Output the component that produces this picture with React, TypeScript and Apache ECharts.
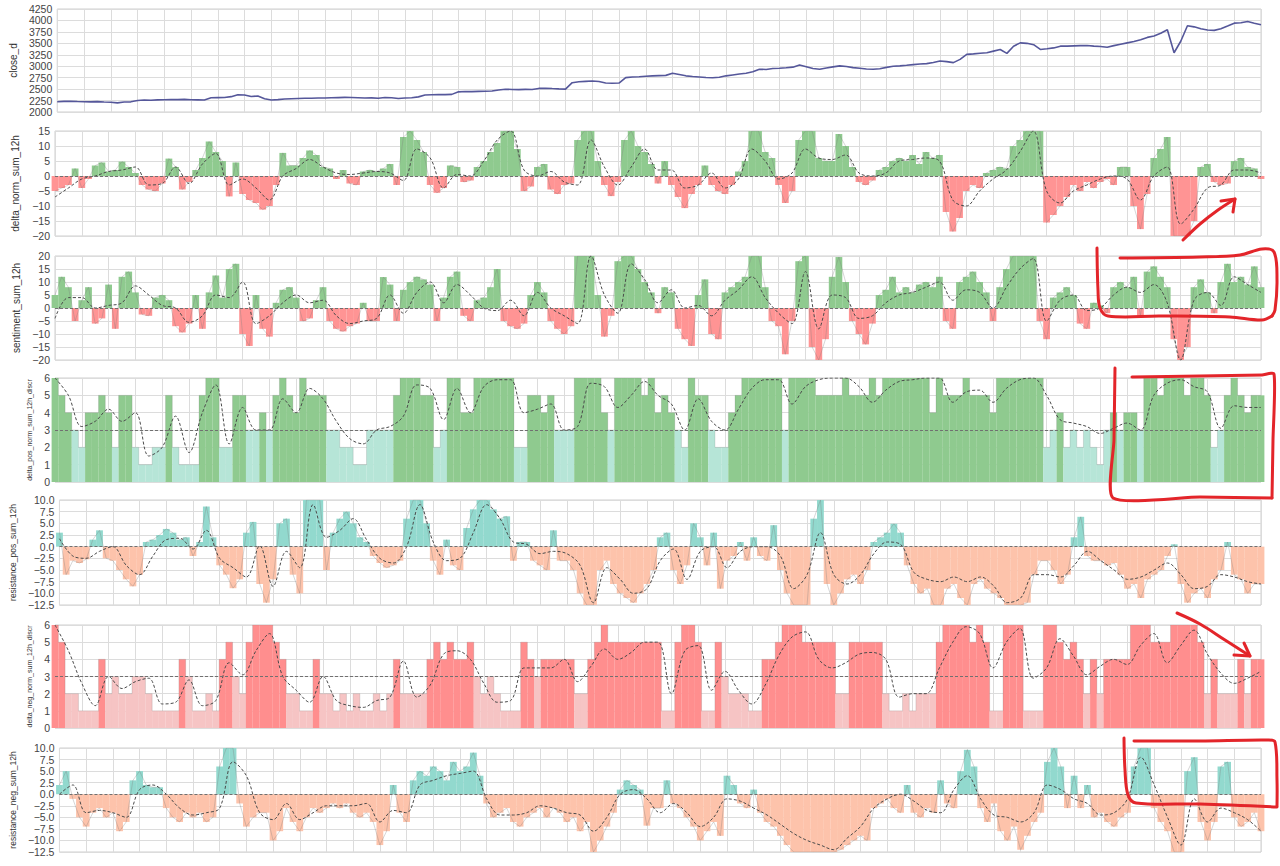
import React, { useEffect, useRef } from "react";
import * as echarts from "echarts";

// x positions: raw series every 0.25 grid unit, smoothed series every 0.5 unit (45 units wide)
const RAW_STEP = 0.25;
const SMOOTH_STEP = 0.5;
const X_MAX = 45;

const closeD = [
  2225, 2232, 2236, 2228, 2224, 2222, 2226, 2219, 2214, 2200, 2218, 2222, 2250, 2262, 2258, 2264,
  2268, 2272, 2270, 2276, 2268, 2265, 2262, 2310, 2315, 2318, 2335, 2378, 2372, 2340, 2348, 2290,
  2262, 2270, 2285, 2290, 2295, 2300, 2300, 2305, 2305, 2310, 2315, 2320, 2318, 2312, 2305, 2308,
  2300, 2318, 2310, 2295, 2305, 2310, 2330, 2370, 2378, 2382, 2380, 2385, 2440, 2448, 2445, 2450,
  2452, 2460, 2480, 2498, 2492, 2488, 2495, 2490, 2515, 2520, 2512, 2505, 2500, 2640, 2660, 2670,
  2678, 2665, 2635, 2628, 2632, 2750, 2765, 2770, 2780, 2790, 2795, 2800, 2848, 2820, 2790, 2776,
  2765, 2752, 2748, 2760, 2790, 2810, 2830, 2848, 2880, 2935, 2930, 2950, 2955, 2965, 2980, 3028,
  2990, 2950, 2935, 2960, 2985, 3007, 2995, 2970, 2955, 2940, 2935, 2945, 2975, 3000, 3007, 3020,
  3035, 3050, 3057, 3080, 3114, 3100, 3079, 3150, 3258, 3270, 3285, 3294, 3330, 3366, 3280, 3438,
  3510, 3500, 3470, 3366, 3380, 3400, 3438, 3440, 3445, 3450, 3452, 3440, 3430, 3416, 3450, 3480,
  3510, 3540, 3580, 3630, 3660, 3720, 3798, 3294, 3546, 3884, 3860, 3820, 3790, 3783, 3820, 3880,
  3941, 3950, 3978, 3940, 3905,
];

const deltaNorm = [
  -5, -4, -3, 2.5, -4, -1, 3.5, 4.5, 1.5, 2, 4.8, 3, 1, -3, -4.5, -5,
  -2.5, 5.8, 3, -4.5, -2, 2, 6, 11.5, 8, 5, -6.8, 4.5, -6, -8, -9, -11.2,
  -10, -3, 7.7, 3.5, 3.5, 6, 8.5, 7, 3, 2.5, -1, 2, -2.5, -3, 1.5, 2,
  1.5, 2.5, 4, -3, 13, 15, 12, 8, -3, -5.6, -4, 3.5, 3, -2, -1.5, 3,
  5, 8, 11, 15, 15, 9, -5, -3.5, 3, 4, -4.5, -6, -3, -2.5, 12, 15,
  15, 5, -3, -6.7, -2, 12, 15, 10, 8, 4, -2.5, 5, -3, -7, -10.7, -6,
  -3, 3.5, -3, -5, -6, -3, 1.5, 5, 15, 15, 8, 6, -3, -9, -5, 12,
  15, 15, 6, 5, 5, 14, 10, 3, -2, -3, -1.5, 2, 3, 5, 6, 5,
  7, 4, 8, 6, 7, -12, -18.5, -14, -5, -3, -4, 1, 2, 3, 2.5, 10,
  12, 15, 15, 15, -15.5, -13, -10, -7, -3, -5, -2, -4, -2, -1, -3, 3,
  3, -10, -17.7, -6, 6, 9, 13, -20, -20, -20, -15, 3, 4, -2, -3, -2.5,
  5, 6, 3, 2.5, -1,
];
const deltaNormSmooth = [
  -7, -4, -1, 0, 1.5, 2, 3, -3, -2.5, 3, -2.5, 4, 7.5, -3, -1, -4, -8, 0, 2.5, 5.5,
  3, 1, 0.5, 1, 1.5, 1, -1.5, 9, 6, -4, 0.5, 0, 5, 12, 15, 2, 0, 1.5, -2, -3,
  12, 3, -3, 3, 9, 2, 2, -4, -3, 1, -4, -1, 9, 5, -1, 1, 9, 6, 5.5, 7,
  1, 0, 1, 5, 5.5, 6, 5, -8, -10, -5, -1, 2, 8, 15, -5, -9, -5, -3, -1, 0,
  -1, -8, 0, 3, -16, -11, -4, -3, 2, 2, 1,
];

const sentiment = [
  5, 12, 8, -5, 3, 8, -6, -4, 9, -8, 12, 14, 6, -2.5, -3, 4,
  5, 3, -7, -9.4, -6, 5, -8, 6, 12.5, 4, 15, 17, -10, -14.6, 5, -8,
  -11, 2, 7, 8, 4, -5, -4, 3, 8, -5, -8, -9, -7, -6, 2, -5,
  -5, 11.9, 9, -5, 7, 10, 12, 11, 9, -5, 4, 12, 14, -3, -5, 3,
  4, 8, 15, -5, -7, -8, -6, 5, 10, 6, -5, -8, -10, -7, 20, 20,
  20, 5, -11, -3, 18, 20, 20, 15, 10, 6, -2, 8, 6, -8, -12, -14.6,
  5, 11, -10, -12, 6, 8, 10, 12, 20, 20, 8, -5, -7, -17.8, -5, 18,
  20, -15, -20, -12, 12, 19.6, 10, -5, -10, -14, -6, 5, 7, 12, 6, 8,
  6, 9, 10, 8, 12, -5, -8, 10, 12, 14, 10, 6, -5, 8, 15, 20,
  20, 20, 20, -5, -12, 4, 6, 8, 5, -6, -8, 2, 1, -2, 8, 10,
  8, 12, -3, 14, 16, 12, 8, -12, -20, -15, 8, 11, 6, -2, 10, 17,
  10, 12, 9, 16, 8,
];
const sentimentSmooth = [
  -4, 4, 4, 0, 1, 2, 8.5, 5, 1, 0, -5.5, -3, 5, 4, 10, -6, -3, 2, 5, 2,
  3, -3, -6, -5, -4, 5, -2, 6, 10, 2, 9, 5, 0, -1, 3, -3, 6, 0, -3, -6,
  20, 5, -2, 17, 11, 2, 7, 0, 1, -3, 3, 7, 12, 4, -2, -6, 14, -8, 5, 4,
  -4, -3, 2, 5, 6, 8, 10, 3, 7, 6, 0, 8, 15, 19, -5, 3, 5, -1, 0, 5,
  8, 6, 9, 2, -20, 3, 6, 1, 12, 9, 6,
];

const deltaPosDiscr = [
  6, 5, 4, 3, 2, 4, 4, 5, 4, 2, 5, 5, 2, 1, 1, 2,
  2, 5, 2, 1, 1, 1, 5, 6, 6, 2, 2, 5, 5, 3, 3, 4,
  3, 5, 6, 5, 4, 6, 5, 5, 5, 3, 3, 2, 2, 1, 1, 3,
  3, 3, 3, 5, 6, 6, 6, 5, 5, 2, 3, 6, 6, 4, 4, 6,
  6, 6, 6, 6, 6, 2, 2, 5, 5, 4, 5, 3, 3, 3, 6, 6,
  6, 6, 4, 3, 6, 6, 6, 6, 5, 6, 4, 5, 4, 3, 2, 6,
  5, 5, 3, 2, 2, 4, 5, 6, 6, 6, 6, 6, 6, 3, 6, 6,
  6, 6, 5, 5, 5, 5, 6, 5, 5, 5, 6, 5, 6, 6, 6, 6,
  6, 6, 6, 4, 6, 5, 5, 5, 6, 5, 5, 5, 4, 6, 6, 6,
  6, 6, 6, 6, 2, 3, 4, 2, 3, 2, 3, 2, 1, 3, 4, 3,
  4, 4, 3, 6, 6, 5, 6, 6, 6, 5, 6, 6, 5, 2, 3, 5,
  6, 5, 4, 5, 5,
];
const deltaPosDiscrSmooth = [
  6, 5, 3.2, 3.5, 4.2, 3.5, 4, 1.5, 2, 3.8, 1.7, 4, 5.6, 2.2, 4.3, 3, 3, 4.8, 4, 5.4,
  4.8, 3.5, 2.5, 2.2, 3, 3.2, 3.8, 5.6, 5.4, 3.6, 5.4, 4, 5.5, 5.9, 5.9, 4, 4.2, 4.5, 3, 3.2,
  5.7, 5.5, 4.3, 5, 5.8, 5, 4.5, 3, 4.8, 3.5, 3, 4.2, 5.4, 5.9, 5.9, 4.5, 5.5, 5.9, 6, 6,
  5.5, 4.6, 5.3, 5.8, 5.9, 6, 6, 4.6, 5.2, 5.3, 4.6, 5.4, 5.9, 6, 5, 3.6, 3.4, 3.2, 2.8, 3.1,
  3.4, 3, 5, 5.7, 5.9, 5.5, 5.2, 3.1, 4.4, 4.3, 4.3,
];

const resistancePos = [
  3, -6, -3, -3.5, -2.7, 1.5, 3.5, -2.5, -3, -5, -7, -8.5, -6, 1, 1.5, 2.5,
  3.8, 3, 1.5, 2, -2, 1, 8.6, 2, -4, -6, -8.9, -7, 3, 5.3, -8, -12,
  -7, 5, 6, -6, -10, 10, 10, 10, -5, 3, 6, 7.5, 5, 2, 1, -2,
  -3.5, -4.5, -4, -3, 6, 10, 10, 5, -3, -6, 1.5, -4, -5, 4, 8, 10,
  10, 8, 6, 6.5, -3, 1, 1, -3, -4, -5, 3.5, -3, -3, -5, -10, -12.5,
  -12.5, -5, -3, -8, -10, -11, -12, -10, -8, -5, 2, 3, -5, -8, -4, 5,
  2, -4, 3, -9, -3, -2, 1, -3, 2, -2, -3, 4.6, -5, -10, -12.5, -12.5,
  -12.5, 6, 10, -8, -12.5, -10, -7, -6, -8, -5, 1, 2, 3, 4.9, 3, -4,
  -8, -10, -9, -12.5, -12.5, -9, -8, -11, -12.5, -8, -7, -9, -10, -11, -12.5, -12.5,
  -12.5, -12, -6, -3, -3, -5, -8, -6, 2, 6.4, -2, -3, -3, -4, -3.5, -6,
  -9, -8, -11, -7, -6, -5, -2, 0.5, -8, -12, -10, -9, -11, -7, -5, 1,
  -6, -7, -10, -8, -8,
];
const resistancePosSmooth = [
  1.7, -2, -2.5, -1, 0, -4, -6, -2, 1.5, 1.8, -0.5, 3.5, -2.5, -4.5, -6.5, 0.2, -8.5, -1, -4.5, 9,
  2, 3.5, 6, 1.5, -2.5, -3.5, 0, 9, 1, -3, -2.5, 3, 9, 6, 1, 0.5, -1.5, -1, -1.5, -4,
  -12, -4.5, -7, -10, -9, -3, -0.5, -7, -1, 0, -4.5, -1, 0, 0, -2, -9, -6, 3, -6, -8,
  -6, -1.5, 1, 0.5, -5.5, -7, -7.5, -6.5, -7.5, -6.5, -8.5, -12, -11, -6, -6, -6.5, -4, -1, -3, -5,
  -7, -6.5, -5, -3.5, -6, -9, -8.5, -6, -6.5, -7.5, -8,
];

const deltaNegDiscr = [
  6, 5, 2, 2, 1, 1, 1, 4, 2, 3, 2, 2, 3, 3, 2, 1,
  1, 1, 1, 4, 3, 1, 1, 2, 1, 4, 5, 3, 2, 5, 6, 6,
  6, 5, 4, 2, 2, 1, 1, 4, 2, 2, 1, 2, 1, 2, 1, 1,
  2, 1, 2, 4, 2, 2, 2, 2, 4, 5, 4, 5, 4, 4, 5, 3,
  2, 3, 2, 1, 1, 1, 5, 4, 3, 4, 4, 4, 4, 4, 2, 2,
  4, 5, 6, 5, 5, 5, 5, 5, 5, 5, 5, 1, 1, 5, 6, 6,
  5, 1, 1, 5, 3, 2, 2, 2, 1, 1, 4, 4, 5, 6, 6, 6,
  5, 5, 5, 5, 5, 2, 2, 5, 5, 5, 5, 5, 2, 1, 1, 2,
  1, 2, 2, 2, 5, 6, 6, 6, 6, 5, 6, 5, 1, 1, 6, 6,
  6, 1, 1, 1, 6, 6, 5, 4, 5, 4, 2, 4, 2, 4, 4, 4,
  4, 6, 6, 6, 5, 5, 5, 6, 6, 6, 6, 5, 2, 4, 2, 2,
  2, 4, 2, 4, 4,
];
const deltaNegDiscrSmooth = [
  6, 4.5, 2.6, 1.3, 3, 2.3, 2.7, 2.9, 1.4, 1.5, 2.8, 1.3, 1.6, 3.8, 3.1, 4.5, 5.5, 3, 2.2, 1.5,
  3, 1.6, 1.3, 1.2, 1.6, 1.8, 3.9, 1.8, 2.5, 4.3, 4.5, 4, 2.6, 1.5, 1.6, 3.5, 3.5, 3.5, 4, 2.7,
  3.6, 4.6, 4, 4.4, 5, 5, 2, 4.5, 4.8, 2.2, 3.3, 2.2, 1.4, 2.5, 4.2, 5.3, 5.6, 4, 3.5, 3.8,
  4.3, 4.4, 4, 1.8, 2, 2, 3.5, 5, 5.9, 5.5, 3.5, 5, 5.8, 2.9, 3.5, 5.2, 4.2, 3.1, 3.6, 4,
  3.7, 4.8, 5.5, 3.8, 4.8, 5.7, 4.3, 3.2, 2.6, 2.9, 3.3,
];

const resistanceNeg = [
  2, 5, -1, -5, -7, -4, -3, -5, -4, -8, -6, 3, 5, 2, 1.5, 1.5,
  -3, -5, -6, -4, -5, -4, -6, -5, 6, 10, 10, -2, -7, -5, -4, -4,
  -10, -8, -3, -6, -8, -5, -3, -4, -3, -2, -3, -2, -4, -5, -4, -6,
  -11, -8, 2, -4, -6, 3, 5, 4, 6, 5, 3, 7, 5, 6, 9, 4,
  -2, -5, -4, -3, -6, -7, -5, -4, -3, -5, -3, -4, -6, -5, -8, -6,
  -12.5, -10, -7, -4, 1, 3, 2, 1, -6.8, -3, -3, 3, -2, -3, -5, -7,
  -10, -8, -6, -9, 4, 2, -2, -3, 1, -4, -6, -7, -9, -11, -12.5, -12.5,
  -12.5, -12.5, -12.5, -12.5, -12.5, -12, -11, -10, -9, -10, -3, -2, -1, -3, -4, 2,
  -4, -5, -3, -4, 3, -2, -3, 5, 9.6, 6, -3, -6, -2, -8, -10, -7,
  -12, -9, -6, -4, 7, 10, 6, -3, 4, -3, 2, -5, -4, -6, -7, -5,
  -4, 6, 10, 10, -3, -6, -8, -12.5, -12.5, 5, 8, -6, -10, -6, 6, 7,
  -5, -7, -6, -4, -8,
];
const resistanceNegSmooth = [
  0, 2, -4, -3.5, -4, -5, 1, 2, 0, -3, -4.5, -4, -3, 7, 4, -4, -5.5, -2, -5.5, -4,
  -2.5, -2.5, -2.5, -2, -6, -3.5, -4, 2, 3, 4, 4.5, 5, -1, -4.5, -4.5, -4, -2.5, -3, -4, -4.5,
  -8, -5, 0, 1, -1, -4, -2, -4, -7, -5, -1, -1.5, -3, -4.5, -6.5, -8.5, -10, -11, -12, -9.5,
  -7, -3, -1, 0, -1.5, -3.5, -4, 1, 4, -1, -4.5, -5, -6, -4, 2, 1, -1, -2, -4.5, -4,
  -1, 8, 2, -5, -11, -1, -6, -3, -4, -5.5, -8,
];

// panel layout (pixels) and axis settings
const PANELS = [
  { key: "close", name: "close_d", top: 9, height: 103, min: 2000, max: 4250, interval: 250, dec: 0, nameGap: 39, nameSize: 10 },
  { key: "dn", name: "delta_norm_sum_12h", top: 131, height: 105, min: -20, max: 15, interval: 5, dec: 0, nameGap: 35, nameSize: 10 },
  { key: "se", name: "sentiment_sum_12h", top: 256, height: 104, min: -20, max: 20, interval: 5, dec: 0, nameGap: 33, nameSize: 10 },
  { key: "dp", name: "delta_pos_norm_sum_12h_discr", top: 378, height: 104, min: 0, max: 6, interval: 1, dec: 0, nameGap: 18, nameSize: 7 },
  { key: "rp", name: "resistance_pos_sum_12h", top: 500, height: 105, min: -12.5, max: 10, interval: 2.5, dec: 1, nameGap: 40, nameSize: 8.5 },
  { key: "dq", name: "delta_neg_norm_sum_12h_discr", top: 625, height: 103, min: 0, max: 6, interval: 1, dec: 0, nameGap: 18, nameSize: 7 },
  { key: "rn", name: "resistance_neg_sum_12h", top: 748, height: 104, min: -12.5, max: 10, interval: 2.5, dec: 1, nameGap: 40, nameSize: 8.5 },
];

const GREEN = "#8fca8f";
const RED = "#ff9494";
const TEAL_LIGHT = "#b6e5d7";
const TEAL = "#92d9ce";
const SALMON = "#fdc3ab";
const RED_DISCR = "#ff8e8e";
const PINK = "#f6c4c4";

const rawPts = (arr: number[]) => arr.map((v, i) => [i * RAW_STEP, v]);
const smoothPts = (arr: number[]) => arr.map((v, i) => [i * SMOOTH_STEP, v]);

function barSeries(g: number, arr: number[], colorFor: (v: number) => string) {
  return {
    type: "bar",
    xAxisIndex: g,
    yAxisIndex: g,
    barWidth: 6.8,
    barGap: "-100%",
    clip: true,
    data: arr.map((v, i) => ({ value: [i * RAW_STEP, v], itemStyle: { color: colorFor(v) } })),
    z: 2,
  };
}

function outlineSeries(g: number, arr: number[], stepped: boolean) {
  return {
    type: "line",
    xAxisIndex: g,
    yAxisIndex: g,
    step: stepped ? "middle" : false,
    symbol: "none",
    clip: true,
    lineStyle: { color: stepped ? "rgba(120,120,120,0.3)" : "rgba(125,125,125,0.45)", width: 0.7 },
    data: rawPts(arr),
    z: 3,
  };
}

function smoothSeries(g: number, arr: number[], ref: number) {
  return {
    type: "line",
    xAxisIndex: g,
    yAxisIndex: g,
    symbol: "none",
    smooth: 0.35,
    clip: true,
    lineStyle: { color: "#4a4a4a", width: 1, type: [3, 2] },
    data: smoothPts(arr),
    z: 4,
    markLine: {
      silent: true,
      symbol: "none",
      label: { show: false },
      lineStyle: { color: "#707070", type: [3, 2], width: 1 },
      data: [{ yAxis: ref }],
    },
  };
}

function annot(points: number[][], smooth = 0.35) {
  return {
    type: "polyline",
    shape: { points, smooth },
    style: { stroke: "#e3252a", lineWidth: 3, fill: null, lineCap: "round", lineJoin: "round" },
    z: 100,
  };
}

function App() {
  const ref = useRef<HTMLDivElement>(null);
  useEffect(() => {
    if (!ref.current) return;
    const chart = echarts.init(ref.current, null, { renderer: "svg" });

    const grid = PANELS.map((p) => ({
      left: 55,
      right: 19,
      top: p.top,
      height: p.height,
      show: true,
      borderColor: "#cfcfcf",
      borderWidth: 1,
      backgroundColor: "#ffffff",
    }));
    const xAxis = PANELS.map((p, g) => ({
      gridIndex: g,
      type: "value",
      min: 0,
      max: X_MAX,
      interval: 1,
      axisLabel: { show: false },
      axisTick: { show: false },
      axisLine: { show: false },
      splitLine: { show: true, lineStyle: { color: "#dcdcdc", width: 1 } },
    }));
    const yAxis = PANELS.map((p, g) => ({
      gridIndex: g,
      type: "value",
      min: p.min,
      max: p.max,
      interval: p.interval,
      name: p.name,
      nameLocation: "middle",
      nameGap: p.nameGap,
      nameTextStyle: { fontSize: p.nameSize, color: "#333", fontFamily: "Liberation Sans, Arial, sans-serif" },
      axisLine: { show: false },
      axisTick: { show: false },
      axisLabel: {
        fontSize: 10.5,
        color: "#444",
        margin: 5,
        fontFamily: "Liberation Sans, Arial, sans-serif",
        formatter: (v: number) => (p.dec ? v.toFixed(1) : String(v)).replace("-", "\u2212"),
      },
      splitLine: { show: true, lineStyle: { color: "#dcdcdc", width: 1 } },
    }));

    const signGR = (v: number) => (v >= 0 ? GREEN : RED);
    const signTS = (v: number) => (v >= 0 ? TEAL : SALMON);
    const discrPos = (v: number) => (v > 3 ? GREEN : TEAL_LIGHT);
    const discrNeg = (v: number) => (v > 3 ? RED_DISCR : PINK);

    const series: any[] = [
      {
        type: "line",
        xAxisIndex: 0,
        yAxisIndex: 0,
        symbol: "none",
        lineStyle: { color: "#55579a", width: 1.6 },
        data: rawPts(closeD),
      },
      barSeries(1, deltaNorm, signGR), outlineSeries(1, deltaNorm, false), smoothSeries(1, deltaNormSmooth, 0),
      barSeries(2, sentiment, signGR), outlineSeries(2, sentiment, false), smoothSeries(2, sentimentSmooth, 0),
      barSeries(3, deltaPosDiscr, discrPos), outlineSeries(3, deltaPosDiscr, true), smoothSeries(3, deltaPosDiscrSmooth, 3),
      barSeries(4, resistancePos, signTS), outlineSeries(4, resistancePos, false), smoothSeries(4, resistancePosSmooth, 0),
      barSeries(5, deltaNegDiscr, discrNeg), outlineSeries(5, deltaNegDiscr, true), smoothSeries(5, deltaNegDiscrSmooth, 3),
      barSeries(6, resistanceNeg, signTS), outlineSeries(6, resistanceNeg, false), smoothSeries(6, resistanceNegSmooth, 0),
    ];

    const graphic = [
      // arrow in delta_norm panel
      annot([[1183, 240], [1200, 224], [1218, 210], [1235, 199]]),
      annot([[1221, 201], [1235, 199], [1233, 212]], 0),
      // box around sentiment tail
      annot([[1097, 248], [1098, 290], [1100, 308], [1108, 316], [1160, 316], [1230, 317], [1262, 320], [1272, 316]]),
      annot([[1120, 258], [1200, 257], [1240, 255], [1262, 249], [1274, 252], [1277, 280], [1275, 310], [1272, 316]]),
      // box around delta_pos tail
      annot([[1115, 368], [1114, 440], [1113, 498], [1200, 497], [1272, 498]], 0.2),
      annot([[1132, 377], [1200, 376], [1262, 375], [1274, 374], [1273, 440], [1272, 498]], 0.2),
      // arrow in delta_neg panel
      annot([[1177, 613], [1200, 624], [1225, 640], [1250, 656]]),
      annot([[1244, 643], [1250, 656], [1234, 655]], 0),
      // box around resistance_neg tail
      annot([[1124, 738], [1125, 770], [1128, 795], [1136, 803], [1200, 804], [1277, 807]]),
      annot([[1134, 741], [1200, 741], [1268, 740], [1275, 742], [1277, 780], [1277, 806]]),
    ];

    chart.setOption({
      animation: false,
      backgroundColor: "#ffffff",
      grid,
      xAxis,
      yAxis,
      series,
      graphic,
    });
    return () => chart.dispose();
  }, []);
  return (
    <div
      ref={ref}
      style={{ position: "absolute", left: 0, top: 0, width: 1280, height: 866, background: "#fff" }}
    />
  );
}

export default App;
